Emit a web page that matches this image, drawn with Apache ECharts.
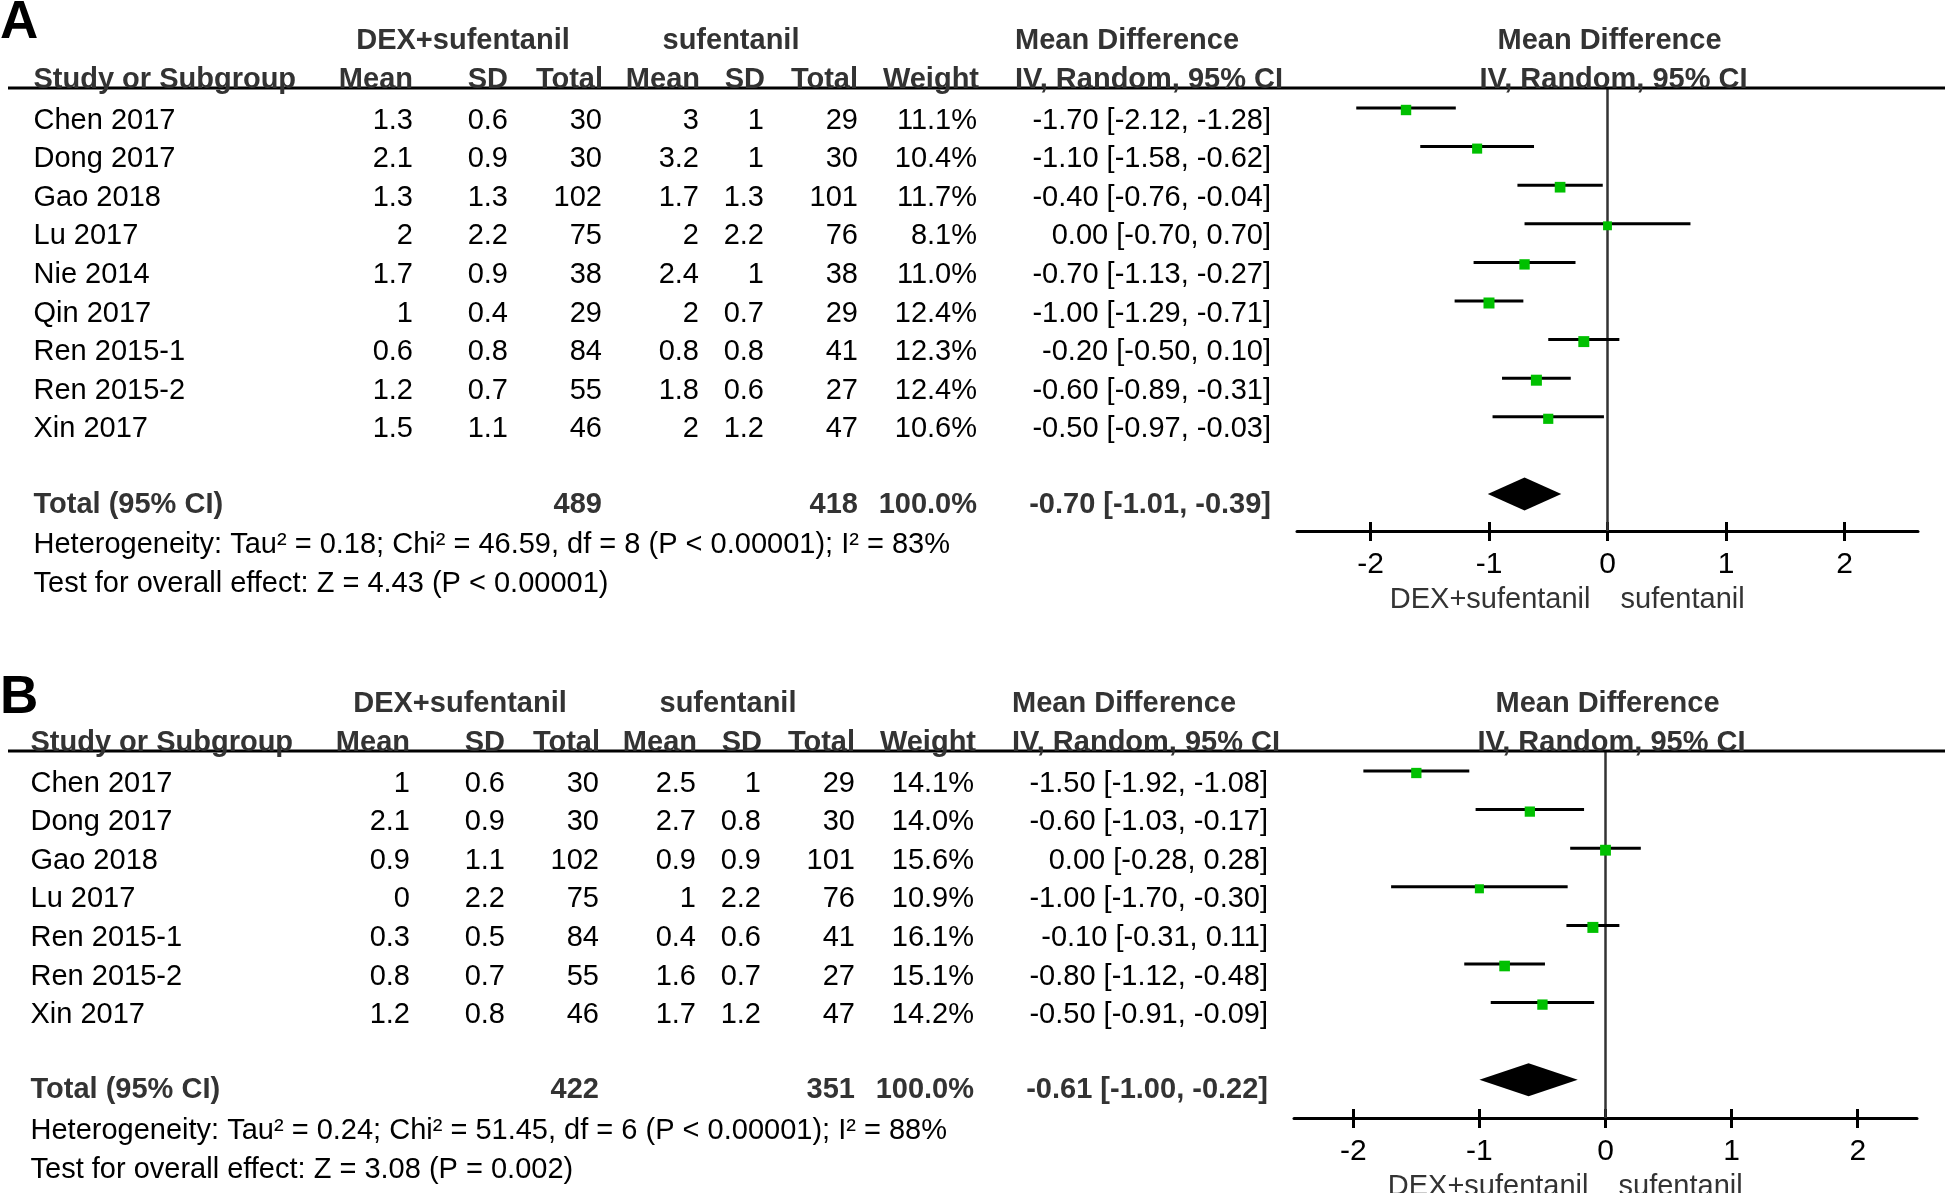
<!DOCTYPE html>
<html><head><meta charset="utf-8">
<script src="https://cdn.jsdelivr.net/npm/echarts@6/dist/echarts.min.js"></script>
<style>html,body{margin:0;padding:0;background:#fff}#c{width:1945px;height:1193px}</style>
</head><body><div id="c"></div><script>
// ---------- Panel A data ----------
const studiesA = ['Chen 2017','Dong 2017','Gao 2018','Lu 2017','Nie 2014','Qin 2017','Ren 2015-1','Ren 2015-2','Xin 2017'];
const dexMeanA = ['1.3','2.1','1.3','2','1.7','1','0.6','1.2','1.5'];
const dexSdA = ['0.6','0.9','1.3','2.2','0.9','0.4','0.8','0.7','1.1'];
const dexTotalA = [30,30,102,75,38,29,84,55,46];
const sufMeanA = ['3','3.2','1.7','2','2.4','2','0.8','1.8','2'];
const sufSdA = ['1','1','1.3','2.2','1','0.7','0.8','0.6','1.2'];
const sufTotalA = [29,30,101,76,38,29,41,27,47];
const weightA = [11.1,10.4,11.7,8.1,11.0,12.4,12.3,12.4,10.6];
const mdA = [-1.70,-1.10,-0.40,0.00,-0.70,-1.00,-0.20,-0.60,-0.50];
const loA = [-2.12,-1.58,-0.76,-0.70,-1.13,-1.29,-0.50,-0.89,-0.97];
const hiA = [-1.28,-0.62,-0.04,0.70,-0.27,-0.71,0.10,-0.31,-0.03];
const totalNA = [489, 418];
const totalCIA = [-0.70, -1.01, -0.39];
const hetA = 'Heterogeneity: Tau\u00b2 = 0.18; Chi\u00b2 = 46.59, df = 8 (P < 0.00001); I\u00b2 = 83%';
const effA = 'Test for overall effect: Z = 4.43 (P < 0.00001)';

// ---------- Panel B data ----------
const studiesB = ['Chen 2017','Dong 2017','Gao 2018','Lu 2017','Ren 2015-1','Ren 2015-2','Xin 2017'];
const dexMeanB = ['1','2.1','0.9','0','0.3','0.8','1.2'];
const dexSdB = ['0.6','0.9','1.1','2.2','0.5','0.7','0.8'];
const dexTotalB = [30,30,102,75,84,55,46];
const sufMeanB = ['2.5','2.7','0.9','1','0.4','1.6','1.7'];
const sufSdB = ['1','0.8','0.9','2.2','0.6','0.7','1.2'];
const sufTotalB = [29,30,101,76,41,27,47];
const weightB = [14.1,14.0,15.6,10.9,16.1,15.1,14.2];
const mdB = [-1.50,-0.60,0.00,-1.00,-0.10,-0.80,-0.50];
const loB = [-1.92,-1.03,-0.28,-1.70,-0.31,-1.12,-0.91];
const hiB = [-1.08,-0.17,0.28,-0.30,0.11,-0.48,-0.09];
const totalNB = [422, 351];
const totalCIB = [-0.61, -1.00, -0.22];
const hetB = 'Heterogeneity: Tau\u00b2 = 0.24; Chi\u00b2 = 51.45, df = 6 (P < 0.00001); I\u00b2 = 88%';
const effB = 'Test for overall effect: Z = 3.08 (P = 0.002)';

// ---------- shared labels ----------
const tickValues = [-2, -1, 0, 1, 2];
const groupLabels = ['DEX+sufentanil', 'sufentanil'];
const colHeaders = ['Study or Subgroup','Mean','SD','Total','Mean','SD','Total','Weight','IV, Random, 95% CI'];
const mdHeader = 'Mean Difference';
const totalLabel = 'Total (95% CI)';
const totalWeight = '100.0%';
const panelLetters = ['A', 'B'];

// ---------- layout (pixels) ----------
const FF = '"Liberation Sans", Arial, Helvetica, sans-serif';
const FS = 29;
const STEP = 38.6;
const TY = 2.5; // text baseline nudge
const cols = {study:33.5, m1:413, sd1:508, n1:602, m2:699, sd2:764, n2:858, w:977, ci:1271, mdH:1015, g1:463, g2:731};
const layouts = [
  {gridLeft:1297, gridWidth:621, xMax:2.62, lineY:88, row0:108, axisY:531, dx:0, letterY:21, letterSize:53},
  {gridLeft:1294, gridWidth:623, xMax:2.47, lineY:751, row0:771, axisY:1118, dx:-3, letterY:696, letterSize:53}
];

const panelsData = [
  {studies:studiesA, dexMean:dexMeanA, dexSd:dexSdA, dexTotal:dexTotalA, sufMean:sufMeanA, sufSd:sufSdA, sufTotal:sufTotalA,
   weight:weightA, md:mdA, lo:loA, hi:hiA, totalN:totalNA, totalCI:totalCIA, het:hetA, eff:effA},
  {studies:studiesB, dexMean:dexMeanB, dexSd:dexSdB, dexTotal:dexTotalB, sufMean:sufMeanB, sufSd:sufSdB, sufTotal:sufTotalB,
   weight:weightB, md:mdB, lo:loB, hi:hiB, totalN:totalNB, totalCI:totalCIB, het:hetB, eff:effB}
];

function fmt(v){ return (v === 0 ? 0 : v).toFixed(2).replace(/^-0\.00$/, '0.00'); }
function ciText(m, l, h){ return fmt(m) + ' [' + fmt(l) + ', ' + fmt(h) + ']'; }

function txt(x, y, text, align, bold, fill, size){
  return {type:'text', x:x, y:y + TY, silent:true,
    style:{text:text, align:align, verticalAlign:'middle', textAlign:align, textVerticalAlign:'middle',
      fill: fill || '#000', fontSize: size || FS, fontFamily: FF, fontWeight: bold ? 'bold' : 'normal'}};
}

const grids = [], xAxes = [], yAxes = [], series = [];

panelsData.forEach(function(P, pi){
  const L = layouts[pi];
  const nS = P.studies.length;
  const totalRow = nS + 1;
  const yMin = (L.lineY - L.row0) / STEP;
  const yMax = (L.axisY - L.row0) / STEP;
  const maxW = Math.max.apply(null, P.weight);
  grids.push({left:L.gridLeft, width:L.gridWidth, top:L.lineY, height:L.axisY - L.lineY, containLabel:false});
  const axBase = {gridIndex:pi, type:'value', min:-L.xMax, max:L.xMax, position:'bottom', splitLine:{show:false}};
  xAxes.push(Object.assign({}, axBase, {
    axisLine:{show:true, onZero:false, lineStyle:{color:'#000', width:3}},
    axisTick:{show:true, inside:false, length:10, customValues:tickValues, lineStyle:{color:'#000', width:3}},
    axisLabel:{show:true, margin:19, customValues:tickValues, fontSize:30, color:'#000', fontFamily:FF}
  }));
  xAxes.push(Object.assign({}, axBase, {
    axisLine:{show:false, onZero:false},
    axisTick:{show:true, inside:true, length:9, customValues:tickValues, lineStyle:{color:'#000', width:3}},
    axisLabel:{show:false}
  }));
  yAxes.push({gridIndex:pi, type:'value', min:yMin, max:yMax, inverse:true, show:false,
    axisLine:{show:false}, axisTick:{show:false}, axisLabel:{show:false}, splitLine:{show:false}});
  const xi = pi * 2;

  // zero line
  series.push({type:'custom', xAxisIndex:xi, yAxisIndex:pi, silent:true, animation:false, clip:false,
    data:[[0, 0]],
    renderItem:function(params, api){
      const a = api.coord([0, yMin]), b = api.coord([0, yMax]);
      return {type:'line', shape:{x1:a[0], y1:a[1], x2:b[0], y2:b[1]}, style:{stroke:'#333', lineWidth:2.5}};
    }});

  // CI lines + squares
  const ciData = P.md.map(function(m, i){ return [P.lo[i], P.hi[i], m, P.weight[i], i]; });
  series.push({type:'custom', xAxisIndex:xi, yAxisIndex:pi, silent:true, animation:false, clip:false,
    dimensions:['lo','hi','md','w','row'], encode:{x:[0,1,2], y:4},
    data:ciData,
    renderItem:function(params, api){
      const row = api.value(4);
      const a = api.coord([api.value(0), row]), b = api.coord([api.value(1), row]), c = api.coord([api.value(2), row]);
      const s = 11 * Math.sqrt(api.value(3) / maxW);
      return {type:'group', children:[
        {type:'line', shape:{x1:a[0], y1:a[1], x2:b[0], y2:b[1]}, style:{stroke:'#000', lineWidth:3}},
        {type:'rect', shape:{x:c[0]-s/2, y:c[1]+2-s/2, width:s, height:s}, style:{fill:'#00c000'}}
      ]};
    }});

  // diamond
  series.push({type:'custom', xAxisIndex:xi, yAxisIndex:pi, silent:true, animation:false, clip:false,
    dimensions:['md','lo','hi','row'], encode:{x:[0,1,2], y:3},
    data:[[P.totalCI[0], P.totalCI[1], P.totalCI[2], totalRow]],
    renderItem:function(params, api){
      const row = api.value(3);
      const c = api.coord([api.value(0), row]), l = api.coord([api.value(1), row]), h = api.coord([api.value(2), row]);
      return {type:'polygon', shape:{points:[[l[0], c[1]], [c[0], c[1]-16.5], [h[0], c[1]], [c[0], c[1]+16.5]]},
        style:{fill:'#000'}};
    }});

  // table text
  const tableRows = P.studies.map(function(s, i){ return [0, i]; });
  tableRows.push([0, totalRow]);
  series.push({type:'custom', xAxisIndex:xi, yAxisIndex:pi, silent:true, animation:false, clip:false,
    encode:{x:0, y:1},
    data:tableRows,
    renderItem:function(params, api){
      const idx = params.dataIndex;
      const dx = L.dx;
      const row = api.value(1);
      const y = api.coord([0, row])[1];
      const ch = [];
      if (idx < nS) {
        const ty = y + 10;
        ch.push(txt(cols.study + dx, ty, P.studies[idx], 'left'));
        ch.push(txt(cols.m1 + dx, ty, P.dexMean[idx], 'right'));
        ch.push(txt(cols.sd1 + dx, ty, P.dexSd[idx], 'right'));
        ch.push(txt(cols.n1 + dx, ty, String(P.dexTotal[idx]), 'right'));
        ch.push(txt(cols.m2 + dx, ty, P.sufMean[idx], 'right'));
        ch.push(txt(cols.sd2 + dx, ty, P.sufSd[idx], 'right'));
        ch.push(txt(cols.n2 + dx, ty, String(P.sufTotal[idx]), 'right'));
        ch.push(txt(cols.w + dx, ty, P.weight[idx].toFixed(1) + '%', 'right'));
        ch.push(txt(cols.ci + dx, ty, ciText(P.md[idx], P.lo[idx], P.hi[idx]), 'right'));
      } else {
        // total row + footnotes + headers + axis captions
        const ty = y + 8;
        const G = '#333';
        ch.push(txt(cols.study + dx, ty, totalLabel, 'left', true, G));
        ch.push(txt(cols.n1 + dx, ty, String(P.totalN[0]), 'right', true, G));
        ch.push(txt(cols.n2 + dx, ty, String(P.totalN[1]), 'right', true, G));
        ch.push(txt(cols.w + dx, ty, totalWeight, 'right', true, G));
        ch.push(txt(cols.ci + dx, ty, ciText(P.totalCI[0], P.totalCI[1], P.totalCI[2]), 'right', true, G));
        const hy = api.coord([0, row + 1])[1] + 10;
        const ey = api.coord([0, row + 2])[1] + 10;
        ch.push(txt(cols.study + dx, hy, P.het, 'left'));
        ch.push(txt(cols.study + dx, ey, P.eff, 'left'));
        // headers
        const top = api.coord([0, yMin])[1];
        const zx = api.coord([0, yMin])[0];
        ch.push({type:'line', shape:{x1:8, y1:top, x2:1945, y2:top}, style:{stroke:'#000', lineWidth:3}});
        const h1 = top - 50, h2 = top - 11;
        ch.push(txt(cols.g1 + dx, h1, groupLabels[0], 'center', true, G));
        ch.push(txt(cols.g2 + dx, h1, groupLabels[1], 'center', true, G));
        ch.push(txt(cols.mdH + dx, h1, mdHeader, 'left', true, G));
        ch.push(txt(zx + 2, h1, mdHeader, 'center', true, G));
        ch.push(txt(cols.study + dx, h2, colHeaders[0], 'left', true, G));
        ch.push(txt(cols.m1 + dx, h2, colHeaders[1], 'right', true, G));
        ch.push(txt(cols.sd1 + dx, h2, colHeaders[2], 'right', true, G));
        ch.push(txt(cols.n1 + 1 + dx, h2, colHeaders[3], 'right', true, G));
        ch.push(txt(cols.m2 + 1 + dx, h2, colHeaders[4], 'right', true, G));
        ch.push(txt(cols.sd2 + 1 + dx, h2, colHeaders[5], 'right', true, G));
        ch.push(txt(cols.n2 + dx, h2, colHeaders[6], 'right', true, G));
        ch.push(txt(cols.w + 2 + dx, h2, colHeaders[7], 'right', true, G));
        ch.push(txt(cols.mdH + dx, h2, colHeaders[8], 'left', true, G));
        ch.push(txt(zx + 6, h2, colHeaders[8], 'center', true, G));
        // axis captions
        const bot = api.coord([0, yMax])[1];
        ch.push(txt(zx - 17, bot + 66, groupLabels[0], 'right', false, G));
        ch.push(txt(zx + 13, bot + 66, groupLabels[1], 'left', false, G));
        // panel letter
        ch.push(txt(0, L.letterY, panelLetters[pi], 'left', true, '#000', L.letterSize));
      }
      return {type:'group', children:ch};
    }});
});

const chart = echarts.init(document.getElementById('c'), null, {renderer:'canvas'});
chart.setOption({
  animation:false,
  backgroundColor:'#fff',
  grid:grids, xAxis:xAxes, yAxis:yAxes, series:series
});
</script></body></html>
